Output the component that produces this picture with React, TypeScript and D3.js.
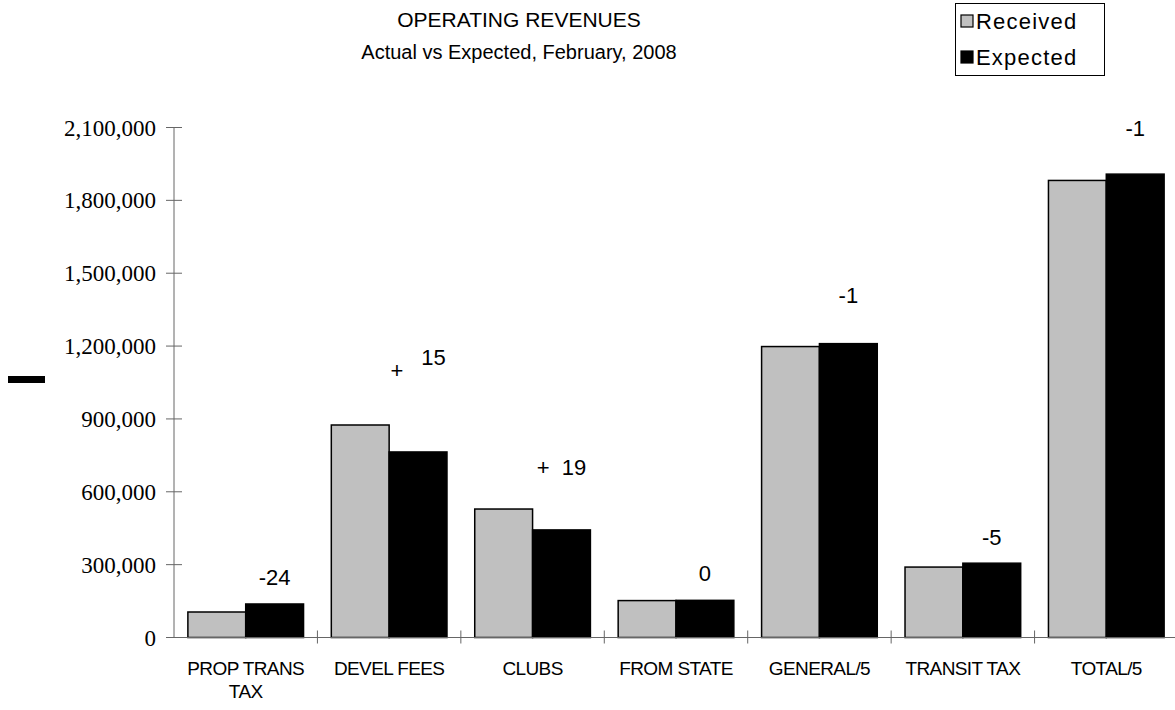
import React, { useEffect, useRef } from "react";
import * as d3 from "d3";

const categories = [
  "PROP TRANS\nTAX",
  "DEVEL FEES",
  "CLUBS",
  "FROM STATE",
  "GENERAL/5",
  "TRANSIT TAX",
  "TOTAL/5",
];
const received = [105000, 875000, 529000, 152000, 1198000, 290000, 1882000];
const expected = [138000, 764000, 443000, 153000, 1210000, 306000, 1908000];
// percent difference labels and the (hidden) level they sit at
const diffLabels = ["-24", "+ 15", "+ 19", "0", "-1", "-5", "-1"];
const labelLevel = [249000, 1122000, 669000, 266000, 1410000, 414000, 2098000];
const yTicks = [0, 300000, 600000, 900000, 1200000, 1500000, 1800000, 2100000];
const seriesNames = ["Received", "Expected"];
const seriesColors = ["#c0c0c0", "#000000"];

const W = 1175;
const H = 710;
const sans = "'Liberation Sans', Arial, sans-serif";
const serif = "'Liberation Serif', 'Times New Roman', serif";

const draw = (svg: d3.Selection<SVGSVGElement, unknown, null, undefined>) => {
  const left = 174;
  const right = 1178;
  const top = 127.5;
  const bottom = 637.5;

  const x = d3.scaleBand<string>().domain(categories).range([left, right]);
  const x1 = d3
    .scaleBand<string>()
    .domain(seriesNames)
    .range([0, x.bandwidth()])
    .paddingOuter(0.24);
  const y = d3.scaleLinear().domain([0, 2100000]).range([bottom, top]);

  // titles
  svg
    .append("text")
    .attr("x", 519)
    .attr("y", 27)
    .attr("text-anchor", "middle")
    .style("font-family", sans)
    .style("font-size", "21px")
    .text("OPERATING REVENUES");
  svg
    .append("text")
    .attr("x", 519)
    .attr("y", 59)
    .attr("text-anchor", "middle")
    .style("font-family", sans)
    .style("font-size", "20px")
    .text("Actual vs Expected, February, 2008");

  // odd little dash left of the axis
  svg.append("rect").attr("x", 8).attr("y", 376).attr("width", 37).attr("height", 7).attr("fill", "#000");

  // bars
  const groups = svg
    .append("g")
    .selectAll("g")
    .data(categories)
    .join("g")
    .attr("transform", (d) => `translate(${x(d)},0)`);

  groups
    .selectAll("rect")
    .data((_, i) => [received[i], expected[i]].map((v, k) => ({ v, k })))
    .join("rect")
    .attr("x", (d) => x1(seriesNames[d.k])!)
    .attr("width", x1.bandwidth())
    .attr("y", (d) => y(d.v))
    .attr("height", (d) => bottom - y(d.v))
    .attr("fill", (d) => seriesColors[d.k])
    .attr("stroke", "#000")
    .attr("stroke-width", 1.5);

  // diff labels over the expected bar
  svg
    .append("g")
    .selectAll("text")
    .data(categories)
    .join("text")
    .attr("x", (d) => x(d)! + x1("Expected")! + x1.bandwidth() / 2)
    .attr("y", (_, i) => y(labelLevel[i]))
    .attr("dy", "0.35em")
    .attr("text-anchor", "middle")
    .style("font-family", sans)
    .style("font-size", "22px")
    .each(function (_, i) {
      const t = d3.select(this);
      const s = diffLabels[i];
      if (s.startsWith("+")) {
        const drop = i === 1 ? 13 : 0;
        t.append("tspan").attr("dy", drop).text("+");
        t.append("tspan").attr("dx", i === 1 ? 18 : 12).attr("dy", -drop).text(s.slice(1).trim());
      } else {
        t.text(s);
      }
    });

  // y axis
  const axisColor = "#666";
  svg.append("line").attr("x1", left).attr("x2", left).attr("y1", top).attr("y2", bottom).attr("stroke", axisColor);
  const yt = svg.append("g").selectAll("g").data(yTicks).join("g");
  yt.append("line")
    .attr("x1", left - 8)
    .attr("x2", left + 8)
    .attr("y1", (d) => y(d))
    .attr("y2", (d) => y(d))
    .attr("stroke", axisColor);
  yt.append("text")
    .attr("x", left - 18)
    .attr("y", (d) => y(d))
    .attr("dy", "0.35em")
    .attr("text-anchor", "end")
    .style("font-family", serif)
    .style("font-size", "23px")
    .text((d) => d3.format(",")(d));

  // x axis
  svg.append("line").attr("x1", left).attr("x2", right).attr("y1", bottom).attr("y2", bottom).attr("stroke", axisColor);
  svg
    .append("g")
    .selectAll("line")
    .data(categories.slice(1))
    .join("line")
    .attr("x1", (d) => x(d)!)
    .attr("x2", (d) => x(d)!)
    .attr("y1", bottom - 7)
    .attr("y2", bottom + 6)
    .attr("stroke", axisColor);

  svg
    .append("g")
    .selectAll("text")
    .data(categories)
    .join("text")
    .attr("x", (d) => x(d)! + x.bandwidth() / 2)
    .attr("y", 675)
    .attr("text-anchor", "middle")
    .style("font-family", sans)
    .style("font-size", "19px")
    .style("letter-spacing", "-0.6px")
    .each(function (d) {
      const t = d3.select(this);
      d.split("\n").forEach((line, j) => {
        t.append("tspan")
          .attr("x", x(d)! + x.bandwidth() / 2)
          .attr("dy", j === 0 ? 0 : 23)
          .text(line);
      });
    });

  // legend
  const lg = svg.append("g");
  lg.append("rect")
    .attr("x", 955.5)
    .attr("y", 3.5)
    .attr("width", 149)
    .attr("height", 72)
    .attr("fill", "#fff")
    .attr("stroke", "#000");
  seriesNames.forEach((name, k) => {
    const cy = 21 + k * 36;
    lg.append("rect")
      .attr("x", 961)
      .attr("y", cy - 6)
      .attr("width", 12)
      .attr("height", 12)
      .attr("fill", seriesColors[k])
      .attr("stroke", "#000")
      .attr("stroke-width", 1.2);
    lg.append("text")
      .attr("x", 976)
      .attr("y", cy)
      .attr("dy", "0.35em")
      .style("font-family", sans)
      .style("font-size", "22px")
      .style("letter-spacing", "1.2px")
      .text(name);
  });
};

const App = () => {
  const ref = useRef<SVGSVGElement>(null);

  useEffect(() => {
    if (!ref.current) return;
    const svg = d3.select(ref.current);
    svg.selectAll("*").remove();
    draw(svg);
  }, []);

  return (
    <svg
      ref={ref}
      width={W}
      height={H}
      style={{ position: "absolute", left: 0, top: 0, background: "#fff" }}
    />
  );
};

export default App;
